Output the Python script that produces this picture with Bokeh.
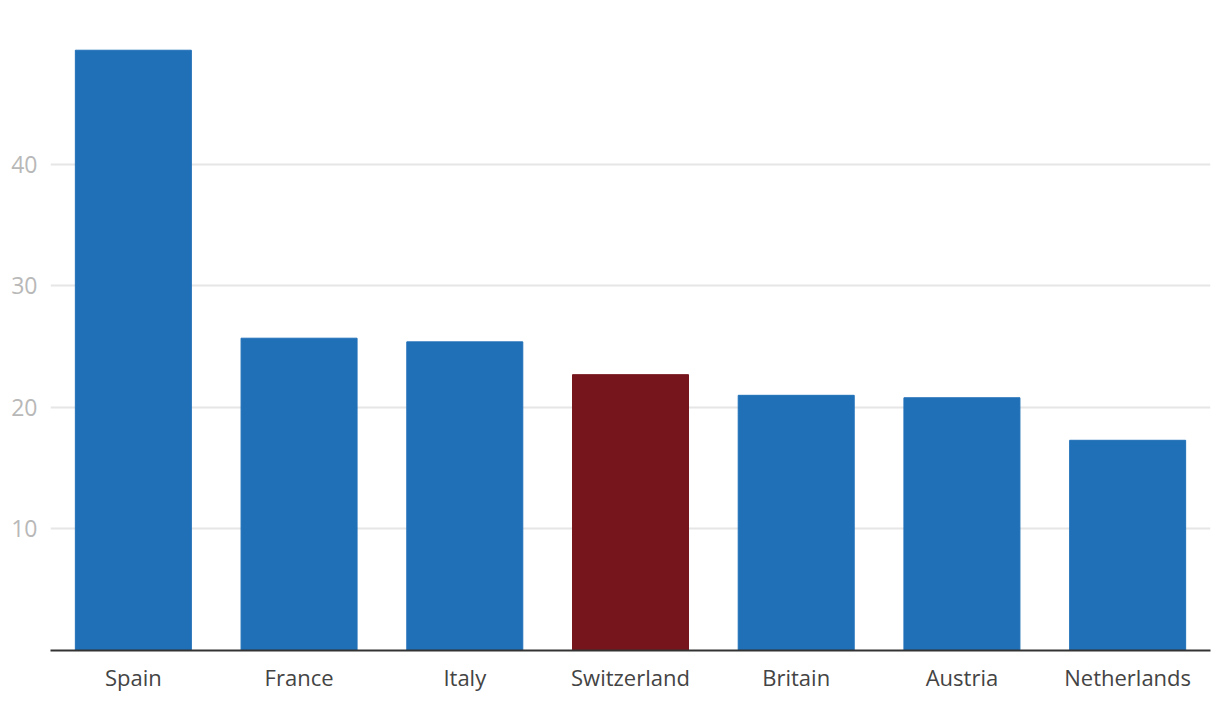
from bokeh.plotting import figure
from bokeh.models import FixedTicker, Range1d, ColumnDataSource
from bokeh.embed import file_html
from bokeh.resources import INLINE

countries = ["Spain", "France", "Italy", "Switzerland", "Britain", "Austria", "Netherlands"]
values = [49.4, 25.7, 25.4, 22.7, 21.0, 20.8, 17.3]
colors = ["#2070B8", "#2070B8", "#2070B8", "#76161C", "#2070B8", "#2070B8", "#2070B8"]
y_ticks = [10, 20, 30, 40]

src = ColumnDataSource(dict(x=countries, top=values, color=colors))

p = figure(x_range=countries, y_range=Range1d(0, 52.67), width=1220, height=706,
           output_backend="svg", toolbar_location=None,
           min_border_left=50, min_border_right=10, min_border_top=10, min_border_bottom=56)
p.vbar(x="x", top="top", width=0.7, color="color", source=src)

p.x_range.range_padding = 0
p.outline_line_color = None
p.xgrid.grid_line_color = None
p.ygrid.grid_line_color = "#e6e6e6"
p.ygrid.grid_line_width = 2
p.ygrid.ticker = FixedTicker(ticks=y_ticks)

p.yaxis.ticker = FixedTicker(ticks=y_ticks)
p.yaxis.axis_line_color = None
p.yaxis.major_tick_line_color = None
p.yaxis.minor_tick_line_color = None
p.yaxis.major_label_text_color = "#b8b8b8"
p.yaxis.major_label_text_font = "Open Sans"
p.yaxis.major_label_text_font_size = "23px"
p.yaxis.major_label_standoff = 7

p.xaxis.axis_line_color = "#333333"
p.xaxis.axis_line_width = 2
p.xaxis.major_tick_line_color = None
p.xaxis.minor_tick_line_color = None
p.xaxis.major_label_text_color = "#444444"
p.xaxis.major_label_text_font = "Open Sans"
p.xaxis.major_label_text_font_size = "22px"
p.xaxis.major_label_standoff = 5

open("out.html", "w").write(file_html(p, INLINE))
